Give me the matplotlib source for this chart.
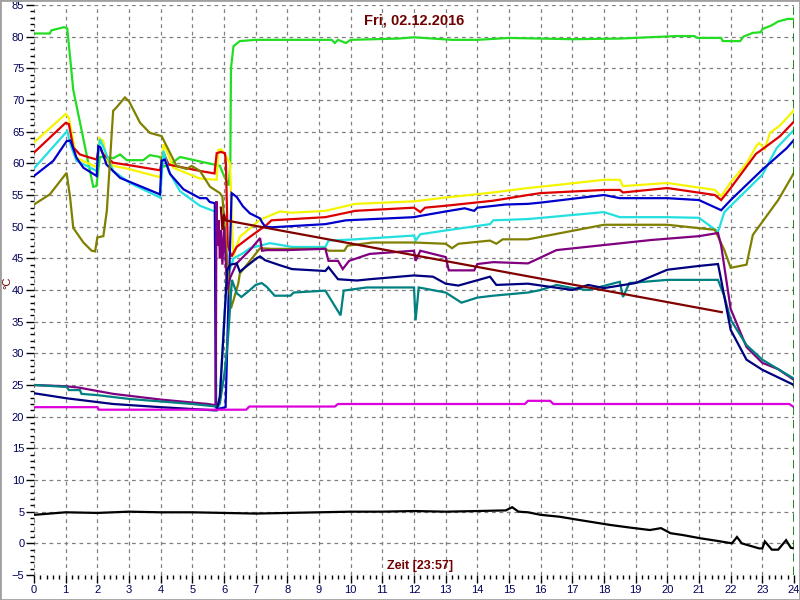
import matplotlib
matplotlib.use("Agg")
import matplotlib.pyplot as plt
from matplotlib.ticker import MultipleLocator
from matplotlib.patches import Rectangle

plt.rcParams['font.family'] = ['Liberation Sans', 'DejaVu Sans']

# ---- data (hours, degC) ----
green_t = [0, 0.5, 0.55, 0.95, 1.05, 1.24, 1.87, 1.97, 2.08, 2.3, 2.5, 2.72, 2.93, 3.45, 3.66, 3.98,
           4.1, 4.3, 4.61, 5.24, 5.87, 6.0, 6.15, 6.2, 6.22, 6.3, 6.5, 7.0, 9.4, 9.5, 9.6, 9.85, 10.0,
           11.5, 12.0, 13.2, 14.0, 15.0, 17.0, 18.5, 20.3, 20.85, 20.95, 21.7, 21.75, 22.3, 22.4,
           22.7, 22.95, 23.0, 23.3, 23.5, 23.8, 24]
green_v = [80.5, 80.5, 81.0, 81.5, 81.3, 71.6, 56.3, 56.4, 61.0, 61.0, 60.8, 61.4, 60.5, 60.5, 61.3, 61.0,
           59.5, 59.8, 61.0, 60.3, 59.6, 58.0, 56.5, 60.0, 75.0, 78.5, 79.3, 79.5, 79.5, 79.0, 79.5, 79.0, 79.5,
           79.7, 79.9, 79.5, 79.5, 79.8, 79.6, 79.7, 80.1, 80.1, 79.8, 79.8, 79.3, 79.3, 80.0,
           80.6, 80.7, 81.2, 81.8, 82.4, 82.8, 82.8]

yellow_t = [0, 1.0, 1.1, 1.24, 1.34, 1.66, 1.98, 2.06, 2.19, 2.29, 2.5, 2.92, 3.98, 4.09, 4.19, 4.4,
            5.24, 5.77, 5.82, 5.92, 6.08, 6.19, 6.29, 6.5, 7.14, 7.77, 8.15, 9.2, 10.15, 11.1, 12.0,
            13.0, 14.5, 15.6, 16.0, 18.0, 18.5, 18.6, 20.0, 21.5, 21.7, 22.0, 22.5, 22.82, 22.9,
            23.08, 23.24, 23.56, 24]
yellow_v = [63.3, 67.8, 67.2, 63.5, 60.9, 60.1, 59.4, 64.0, 63.5, 60.4, 59.6, 59.2, 57.8, 63.0, 62.0, 59.3,
            57.6, 57.4, 62.1, 62.2, 61.0, 60.0, 45.3, 48.4, 51.1, 52.4, 52.2, 52.5, 53.6, 53.8, 54.0,
            54.6, 55.4, 56.1, 56.3, 57.4, 57.4, 56.4, 56.9, 55.8, 54.8, 57.0, 60.0, 62.8, 63.2,
            62.3, 64.8, 66.0, 68.4]

red_t = [0, 1.0, 1.1, 1.24, 1.45, 1.77, 1.98, 2.06, 2.19, 2.5, 3.14, 3.98, 4.09, 4.25, 5.24, 5.7, 5.77,
         5.9, 6.03, 6.06, 6.12, 6.24, 6.4, 6.82, 7.35, 7.5, 9.2, 10.15, 12.0, 12.2, 12.35, 13.0, 14.5,
         15.6, 16.0, 18.0, 18.5, 18.6, 20.0, 21.5, 21.7, 22.0, 22.8, 23.05, 23.4, 23.56, 24]
red_v = [61.7, 66.4, 66.2, 62.5, 61.4, 60.9, 60.6, 62.7, 61.4, 60.1, 59.6, 58.9, 61.7, 59.8, 58.8, 58.4, 61.6,
         61.8, 61.6, 60.0, 47.0, 45.3, 46.8, 48.4, 50.3, 51.0, 51.5, 52.5, 53.0, 52.3, 53.0, 53.3, 54.1,
         55.0, 55.3, 55.8, 55.8, 55.4, 56.1, 55.0, 54.2, 56.1, 61.5, 62.4, 63.7, 64.3, 66.6]

cyan_t = [0, 1.05, 1.15, 1.34, 1.98, 2.08, 2.24, 2.5, 3.03, 3.98, 4.09, 4.25, 4.61, 5.24, 5.45, 5.71,
          5.76, 5.85, 6.0, 6.1, 6.3, 6.6, 6.82, 7.45, 8.15, 9.2, 9.3, 10.15, 12.0, 12.05, 12.2, 13.0,
          14.4, 14.5, 15.6, 18.0, 18.5, 20.0, 21.0, 21.6, 21.8, 23.0, 23.45, 24]
cyan_v = [59.2, 65.1, 63.0, 60.4, 58.8, 63.8, 62.0, 58.8, 56.9, 54.6, 62.0, 58.8, 55.6, 53.3, 52.9, 52.4,
          22.0, 21.5, 35.0, 42.0, 45.0, 45.8, 46.6, 47.4, 46.8, 46.8, 47.8, 48.0, 48.6, 47.8, 48.8, 49.4,
          50.4, 51.0, 51.2, 52.3, 51.5, 51.5, 51.4, 49.2, 52.3, 58.2, 62.4, 65.3]

blue_t = [0, 0.61, 1.03, 1.15, 1.34, 1.56, 1.98, 2.03, 2.1, 2.29, 2.72, 3.35, 3.98, 4.03, 4.13, 4.3,
          4.72, 5.24, 5.45, 5.55, 5.71, 5.74, 5.8, 6.05, 6.15, 6.24, 6.4, 6.6, 6.82, 7.14, 7.2, 7.3,
          7.5, 9.2, 9.85, 12.0, 12.2, 13.0, 13.6, 13.9, 14.0, 14.9, 15.6, 16.0, 18.0, 18.5, 20.0,
          21.0, 21.7, 22.0, 23.0, 23.77, 24]
blue_v = [58.0, 60.4, 63.5, 63.6, 60.9, 59.3, 58.0, 62.7, 62.5, 59.8, 57.7, 56.4, 55.1, 60.4, 60.6, 58.3,
          55.9, 54.5, 54.5, 53.9, 53.7, 21.5, 21.2, 21.5, 40.0, 55.3, 54.7, 53.2, 52.1, 51.3, 50.7, 50.0,
          49.9, 50.4, 51.0, 51.5, 51.7, 52.4, 52.9, 52.5, 53.0, 53.5, 53.6, 53.8, 55.0, 54.5, 54.5,
          54.2, 52.6, 54.2, 59.0, 62.4, 63.7]

olive_t = [0, 0.5, 1.03, 1.14, 1.24, 1.56, 1.82, 1.93, 2.0, 2.19, 2.3, 2.5, 2.6, 2.87, 3.0, 3.35, 3.66,
           4.03, 4.19, 4.5, 4.82, 4.98, 5.24, 5.56, 5.87, 5.95, 6.22, 6.3, 6.45, 6.5, 7.14, 7.5, 9.2,
           9.3, 9.8, 9.9, 10.7, 12.0, 13.0, 13.2, 13.4, 14.4, 14.6, 14.8, 15.6, 18.0, 20.0, 21.5,
           21.8, 22.0, 22.5, 22.7, 23.5, 24]
olive_v = [53.5, 55.1, 58.5, 54.6, 49.8, 47.5, 46.2, 46.1, 48.3, 48.5, 52.5, 68.3, 68.8, 70.4, 69.8, 66.4, 64.8,
           64.3, 62.7, 59.6, 59.1, 59.6, 58.8, 56.3, 55.3, 54.7, 37.1, 38.4, 41.0, 42.6, 46.6, 46.5, 46.5,
           46.2, 46.2, 47.0, 47.5, 47.5, 47.3, 46.6, 47.3, 47.8, 47.3, 48.0, 48.0, 50.3, 50.3, 49.5,
           46.3, 43.5, 44.0, 48.7, 54.2, 58.5]

purple_t = [0, 1.0, 1.4, 2.5, 4.0, 5.5, 5.74, 5.76, 5.8, 5.83, 5.87, 5.9, 5.95, 6.0, 6.1, 6.2, 6.4,
            6.82, 7.14, 7.2, 7.35, 8.0, 9.2, 9.3, 9.6, 9.75, 9.95, 10.6, 12.0, 12.05, 12.2, 13.0, 13.1,
            13.9, 14.0, 14.5, 15.6, 16.5, 18.0, 19.5, 21.0, 21.6, 21.7, 22.0, 22.5, 23.0, 23.5, 24]
purple_v = [25.0, 24.8, 24.6, 23.6, 22.7, 22.0, 21.8, 54.0, 47.0, 51.0, 45.0, 49.5, 44.0, 50.0, 40.0, 42.0, 44.2,
            46.3, 48.2, 46.2, 46.3, 46.3, 46.5, 44.6, 44.6, 43.3, 44.6, 45.7, 46.2, 44.6, 46.2, 45.2, 43.1,
            43.1, 44.1, 44.4, 44.2, 46.3, 47.1, 47.9, 48.5, 49.0, 47.0, 37.0, 31.0, 28.5, 27.5, 25.8]

teal_t = [0, 1.03, 1.1, 1.45, 1.5, 2.0, 3.0, 4.0, 5.0, 5.77, 5.87, 6.03, 6.13, 6.25, 6.4, 6.55, 6.82,
          7.0, 7.19, 7.35, 7.6, 8.1, 8.2, 9.2, 9.68, 9.78, 10.5, 12.0, 12.05, 12.15, 13.0, 13.5, 14.0,
          14.5, 15.6, 16.0, 16.5, 17.0, 17.5, 18.5, 18.6, 18.8, 20.0, 21.6, 21.8, 22.0, 22.5, 23.0, 24]
teal_v = [25.0, 24.7, 24.2, 24.2, 23.6, 23.4, 22.8, 22.4, 22.0, 21.6, 22.1, 27.4, 32.6, 41.6, 39.5, 38.9, 40.0,
          40.8, 41.1, 40.5, 39.1, 39.1, 39.6, 39.9, 36.0, 39.9, 40.4, 40.4, 35.2, 40.4, 39.6, 38.0, 38.8,
          39.1, 39.6, 40.0, 40.8, 40.3, 40.0, 41.3, 38.9, 41.1, 41.6, 41.6, 39.0, 35.3, 31.3, 29.0, 26.0]

navy_t = [0, 1.03, 2.5, 4.0, 5.7, 5.77, 5.87, 5.98, 6.1, 6.2, 6.4, 6.5, 6.7, 7.03, 7.14, 7.3, 7.77,
          8.15, 9.2, 9.3, 9.6, 10.2, 10.6, 12.0, 12.6, 13.0, 13.4, 14.4, 14.6, 15.6, 17.0, 17.5,
          18.0, 19.0, 20.0, 21.0, 21.6, 21.7, 22.0, 22.5, 23.0, 24]
navy_v = [23.7, 22.9, 22.0, 21.5, 21.0, 21.0, 23.2, 32.6, 43.2, 44.0, 44.2, 42.9, 43.7, 45.0, 45.3, 44.7, 43.9,
          43.3, 43.0, 43.6, 41.7, 41.5, 41.7, 42.3, 42.1, 41.0, 40.7, 42.1, 40.8, 41.0, 40.0, 40.8,
          40.3, 41.1, 43.2, 43.8, 44.1, 41.6, 33.7, 29.0, 27.4, 25.0]

magenta_t = [0, 2.0, 2.05, 6.7, 6.8, 9.5, 9.6, 15.5, 15.6, 16.3, 16.4, 23.85, 24]
magenta_v = [21.5, 21.5, 21.1, 21.1, 21.6, 21.6, 22.0, 22.0, 22.5, 22.5, 22.0, 22.0, 21.5]

black_t = [0, 0.5, 1.0, 2.0, 3.0, 4.0, 5.0, 6.0, 7.0, 8.0, 9.0, 10.0, 11.0, 12.0, 13.0, 14.0, 14.9,
           15.1, 15.3, 15.6, 16.0, 16.6, 17.2, 18.2, 18.8, 19.45, 19.8, 20.1, 20.5, 21.04, 21.56,
           22.04, 22.2, 22.35, 22.9, 23.0, 23.08, 23.3, 23.5, 23.75, 23.9, 24]
black_v = [4.5, 4.7, 4.9, 4.8, 5.0, 4.9, 4.9, 4.8, 4.7, 4.8, 4.9, 5.0, 5.0, 5.1, 5.0, 5.1, 5.2,
           5.7, 5.0, 4.9, 4.5, 4.2, 3.7, 2.9, 2.5, 2.1, 2.4, 1.6, 1.3, 0.8, 0.4,
           0.0, 1.0, 0.0, -0.8, -0.8, 0.3, -1.0, -1.0, 0.5, -0.7, -0.8]

maroon_t = [5.9, 5.95, 6.0, 6.05, 21.72]
maroon_v = [53.0, 49.5, 52.0, 51.0, 36.5]

series = [
    (green_t, green_v, '#22dd22'),
    (yellow_t, yellow_v, '#f5f500'),
    (red_t, red_v, '#dd0000'),
    (cyan_t, cyan_v, '#22e0e0'),
    (blue_t, blue_v, '#0000cc'),
    (olive_t, olive_v, '#808000'),
    (purple_t, purple_v, '#800080'),
    (teal_t, teal_v, '#008080'),
    (navy_t, navy_v, '#000080'),
    (magenta_t, magenta_v, '#dd00dd'),
    (black_t, black_v, '#000000'),
    (maroon_t, maroon_v, '#800000'),
]

fig = plt.figure(figsize=(8, 6), dpi=100)
ax = fig.add_axes([34/800, 25/600, 760/800, 570/600])

for t, v, c in series:
    ax.plot(t, v, color=c, lw=1.6, solid_joinstyle='miter')

ax.axvline(24, color='#007000', lw=1.2, ls=(0, (5, 3)))

ax.set_xlim(0, 24)
ax.set_ylim(-5, 85)
ax.xaxis.set_major_locator(MultipleLocator(1))
ax.xaxis.set_minor_locator(MultipleLocator(0.2))
ax.yaxis.set_major_locator(MultipleLocator(5))
ax.yaxis.set_minor_locator(MultipleLocator(1))
ax.grid(True, which='major', color='#808080', lw=0.9, ls=(0, (3, 3)))
for s in ax.spines.values():
    s.set_visible(False)

ax.tick_params(which='major', length=5.5, width=1, color='black', labelsize=8,
               labelcolor='#00005a', pad=1.5)
ax.tick_params(which='minor', length=3, width=1, color='black')

ax.text(0.5, 0.985, 'Fri, 02.12.2016', transform=ax.transAxes, ha='center', va='top',
        fontsize=10.5, fontweight='bold', color='#700000')
ax.text(0.508, 0.006, 'Zeit [23:57]', transform=ax.transAxes, ha='center', va='bottom',
        fontsize=9, fontweight='bold', color='#700000')
# degree label sits left of the tick labels, between 40 and 45
fig.text(7/800, 1 - 283/600, '°C', rotation=90, ha='center', va='center',
         fontsize=8, color='#700000')

fig.patches.append(Rectangle((0, 0), 1, 1, transform=fig.transFigure, fill=False,
                             edgecolor='#a0a0a0', lw=2))

fig.savefig('out.png', dpi=100)
